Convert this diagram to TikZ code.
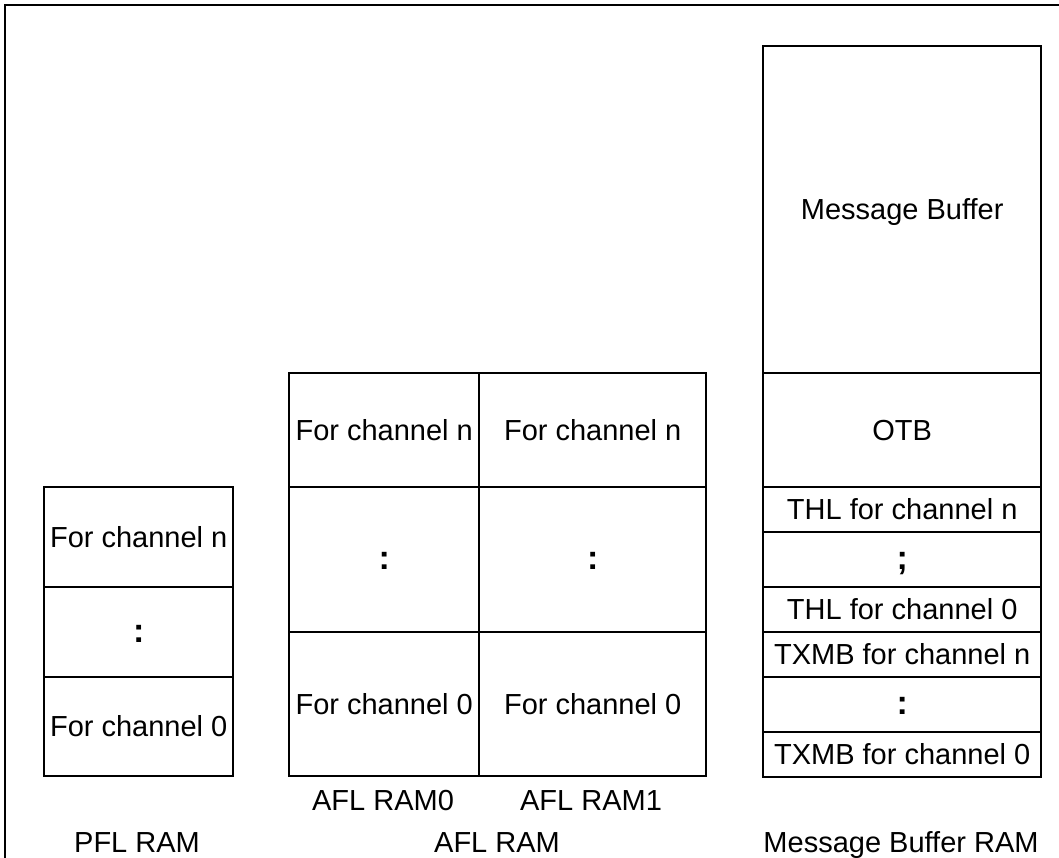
\documentclass[tikz,border=0pt]{standalone}
\usepackage{fontspec}
\setmainfont{Liberation Sans}
\begin{document}
\begin{tikzpicture}[x=1pt,y=-1pt,
  txt/.style={font=\fontsize{29}{34}\selectfont, inner sep=0pt, text height=20.5pt, text depth=0pt},
  cell/.style={txt, draw, line width=2.4pt, anchor=north west, minimum width=#1},
  dots/.style={font=\fontsize{34}{38}\selectfont\bfseries}]
\useasboundingbox (0,0) rectangle (1059,858);
\draw[line width=2.4pt] (5,870) -- (5,5) -- (1070,5);
% PFL RAM
\node[cell=189pt, minimum height=100pt] (p1) at (43,486) {For channel n};
\node[cell=189pt, minimum height=90pt, dots] (p2) at (43,586) {:};
\node[cell=189pt, minimum height=99pt] (p3) at (43,676) {For channel 0};
\node[txt] (pl) at (137,842) {PFL RAM};
% AFL RAM0
\node[cell=190pt, minimum height=114pt] (a1) at (288,372) {For channel n};
\node[cell=190pt, minimum height=145pt, dots] (a2) at (288,486) {:};
\node[cell=190pt, minimum height=144pt] (a3) at (288,631) {For channel 0};
% AFL RAM1
\node[cell=227pt, minimum height=114pt] (b1) at (478,372) {For channel n};
\node[cell=227pt, minimum height=145pt, dots] (b2) at (478,486) {:};
\node[cell=227pt, minimum height=144pt] (b3) at (478,631) {For channel 0};
\node[txt] (al0) at (383,800) {AFL RAM0};
\node[txt] (al1) at (591,800) {AFL RAM1};
\node[txt] (al) at (497,842) {AFL RAM};
% Message Buffer RAM
\node[cell=278pt, minimum height=327pt] (m1) at (762,45) {Message Buffer};
\node[cell=278pt, minimum height=114pt] (m2) at (762,372) {OTB};
\node[cell=278pt, minimum height=45pt] (m3) at (762,486) {THL for channel n};
\node[cell=278pt, minimum height=55pt, dots] (m4) at (762,531) {;};
\node[cell=278pt, minimum height=45pt] (m5) at (762,586) {THL for channel 0};
\node[cell=278pt, minimum height=45pt] (m6) at (762,631) {TXMB for channel n};
\node[cell=278pt, minimum height=55pt, dots] (m7) at (762,676) {:};
\node[cell=278pt, minimum height=45pt] (m8) at (762,731) {TXMB for channel 0};
\node[txt] (ml) at (901,842) {Message Buffer RAM};
\end{tikzpicture}
\end{document}
